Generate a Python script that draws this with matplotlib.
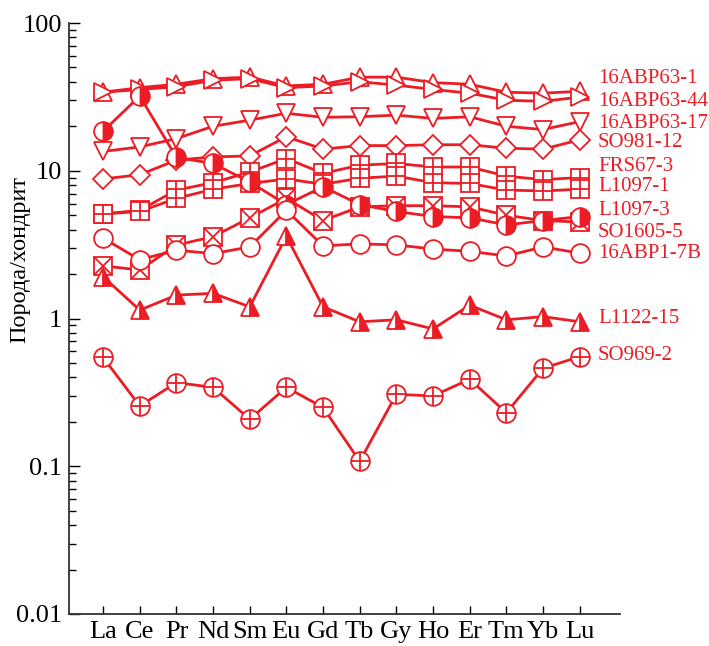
# Нормированные на хондрит спектры РЗЭ

import matplotlib
matplotlib.use('Agg')
import matplotlib.pyplot as plt

RED = '#ec1c24'

elements = ['La', 'Ce', 'Pr', 'Nd', 'Sm', 'Eu', 'Gd', 'Tb', 'Gy', 'Ho', 'Er', 'Tm', 'Yb', 'Lu']

abp63_1 = [34, 36.5, 38.5, 42, 43, 37.5, 38.5, 43, 43, 39.5, 38.5, 34, 33.5, 34.5]
abp63_44 = [34, 35.5, 37, 41, 42, 36.5, 37.5, 40, 38, 35.5, 33.5, 30, 29.5, 31.5]
abp63_17 = [13.5, 14.5, 16.5, 20, 22, 24.5, 23, 23.2, 23.8, 22.6, 23.2, 20, 19, 21.5]
so981_12 = [8.8, 9.4, 11.8, 12.4, 12.6, 17, 14, 14.8, 14.8, 15, 15, 14.2, 14, 16.2]
frs67_3 = [5.1, 5.4, 7.4, 8.3, 9.8, 12.1, 9.6, 10.9, 11.2, 10.6, 10.6, 9.2, 8.7, 9.0]
l1097_1 = [5.1, 5.3, 6.5, 7.5, 8.2, 8.8, 8.1, 8.9, 9.2, 8.3, 8.2, 7.4, 7.3, 7.5]
l1097_3 = [2.27, 2.13, 3.14, 3.58, 4.8, 6.5, 4.6, 5.7, 5.8, 5.8, 5.7, 5.0, 4.6, 4.5]
so1605_5 = [18.5, 32, 12.3, 11.2, 8.4, 5.9, 7.8, 5.9, 5.3, 4.9, 4.8, 4.3, 4.6, 4.9]
abp1_7b = [3.5, 2.5, 2.9, 2.75, 3.05, 5.4, 3.1, 3.2, 3.15, 2.95, 2.85, 2.65, 3.05, 2.77]
l1122_15 = [1.92, 1.14, 1.44, 1.48, 1.2, 3.6, 1.2, 0.95, 0.98, 0.85, 1.23, 0.98, 1.03, 0.95]
so969_2 = [0.545, 0.256, 0.368, 0.342, 0.208, 0.342, 0.25, 0.108, 0.307, 0.299, 0.388, 0.23, 0.46, 0.552]

sample_names = ['16ABP63-1', '16ABP63-44', '16ABP63-17', 'SO981-12', 'FRS67-3', 'L1097-1',
                'L1097-3', 'SO1605-5', '16ABP1-7B', 'L1122-15', 'SO969-2']
sample_values = [abp63_1, abp63_44, abp63_17, so981_12, frs67_3, l1097_1,
                 l1097_3, so1605_5, abp1_7b, l1122_15, so969_2]

# marker, overlay marker, fill style
sample_markers = [('^', None, 'none'), ('>', None, 'none'), ('v', None, 'none'),
                  ('D', None, 'none'), ('s', '+', 'none'), ('s', '+', 'none'),
                  ('s', 'x', 'none'), ('o', None, 'right'), ('o', None, 'none'),
                  ('^', None, 'right'), ('o', '+', 'none')]

# where the sample names sit on the right side
label_y = [41.8, 29.5, 21, 15.6, 10.7, 7.8, 5.35, 3.8, 2.77, 1.0, 0.566]


def plot_sample(ax, x, values, marker, overlay, fill):
    """
    Draws one sample line with its marker.
    """
    size = 10.5 if marker == 'D' else 13.5
    if fill == 'none':
        ax.plot(x, values, color=RED, lw=2, marker=marker, ms=size, mew=1.3,
                mfc='white', mec=RED)
    else:
        ax.plot(x, values, color=RED, lw=2, marker=marker, ms=size, mew=1.3,
                mfc=RED, mec=RED, fillstyle=fill, markerfacecoloralt='white')
    if overlay:
        ax.plot(x, values, ls='none', marker=overlay, ms=size, mew=1.3, color=RED)


def main():
    plt.rcParams['font.family'] = ['Liberation Serif', 'DejaVu Serif']

    fig = plt.figure(figsize=(7.09, 6.46), dpi=100)
    ax = fig.add_axes([69 / 709, 32 / 646, 551 / 709, 591 / 646])

    x = list(range(len(elements)))
    for values, (marker, overlay, fill) in zip(sample_values, sample_markers):
        plot_sample(ax, x, values, marker, overlay, fill)

    for name, y in zip(sample_names, label_y):
        ax.text(13.5, y, name, color=RED, fontsize=15, va='center', ha='left',
                clip_on=False)

    ax.set_yscale('log')
    ax.set_ylim(0.01, 100)
    ax.set_xlim(-0.93, 14.1)
    ax.set_xticks(x)
    ax.set_xticklabels(elements, fontsize=19)
    ax.set_yticks([0.01, 0.1, 1, 10, 100])
    ax.set_yticklabels(['0.01', '0.1', '1', '10', '100'], fontsize=19)
    ax.set_ylabel('Порода/хондрит', fontsize=17.5)
    ax.yaxis.set_label_coords(-0.07, 0.6)

    for side in ['top', 'right']:
        ax.spines[side].set_visible(False)
    for side in ['left', 'bottom']:
        ax.spines[side].set_linewidth(1.3)
        ax.spines[side].set_color('#333333')

    ax.tick_params(axis='y', which='major', direction='in', length=8, width=1, pad=5)
    ax.tick_params(axis='y', which='minor', direction='in', length=5, width=1)
    ax.tick_params(axis='x', direction='in', length=6, width=1, pad=5)

    fig.savefig('out.png', dpi=100)


if __name__ == '__main__':
    main()
